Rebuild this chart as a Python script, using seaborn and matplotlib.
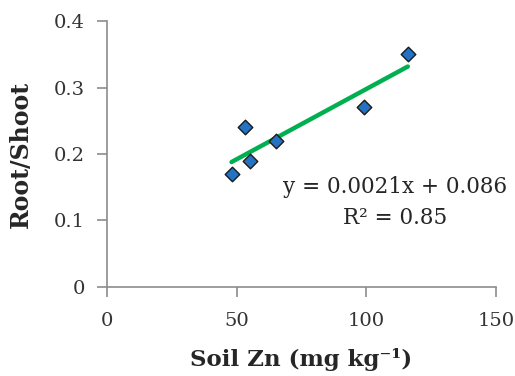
import seaborn as sns
import matplotlib.pyplot as plt
import pandas as pd

# data
soil_zn = [48, 53, 55, 65, 99, 116]
root_shoot = [0.17, 0.24, 0.19, 0.22, 0.27, 0.35]
eq_text = "y = 0.0021x + 0.086"
r2_text = "R² = 0.85"

df = pd.DataFrame({"zn": soil_zn, "rs": root_shoot})

sns.set_style("white")
plt.rcParams['font.family'] = ['DejaVu Serif']

fig = plt.figure(figsize=(5.15, 3.76), dpi=100)
ax = fig.add_axes([0.208, 0.237, 0.755, 0.707])

sns.regplot(data=df, x="zn", y="rs", ax=ax, scatter=False, ci=None,
            line_kws={"color": "#00B050", "lw": 3.2})
sns.scatterplot(data=df, x="zn", y="rs", ax=ax, marker="D", s=55,
                color="#2473C2", edgecolor="#1a1a1a", linewidth=1, zorder=3)

ax.set_xlim(0, 150)
ax.set_ylim(0, 0.4)
ax.set_xticks([0, 50, 100, 150])
ax.set_xticklabels(["0", "50", "100", "150"])
ax.set_yticks([0, 0.1, 0.2, 0.3, 0.4])
ax.set_yticklabels(["0", "0.1", "0.2", "0.3", "0.4"])

for s in ["top", "right"]:
    ax.spines[s].set_visible(False)
for s in ["left", "bottom"]:
    ax.spines[s].set_color("#8c8c8c")
    ax.spines[s].set_linewidth(1.2)

# seaborn's white style hides ticks; turn them back on
ax.tick_params(axis="both", bottom=True, left=True, direction="out",
               length=7, width=1.2, color="#8c8c8c", labelsize=14,
               labelcolor="#333333", pad=9)
ax.tick_params(axis="x", pad=11)

ax.set_xlabel("Soil Zn (mg kg⁻¹)", fontsize=16.5,
              fontweight="bold", color="#262626", labelpad=13)
ax.set_ylabel("Root/Shoot", fontsize=17, fontweight="bold",
              color="#262626", labelpad=15)

ax.text(111, 0.150, eq_text, ha="center", va="center", fontsize=15.5,
        color="#262626")
ax.text(111, 0.103, r2_text, ha="center", va="center", fontsize=15.5,
        color="#262626")

fig.savefig("out.png", dpi=100)
